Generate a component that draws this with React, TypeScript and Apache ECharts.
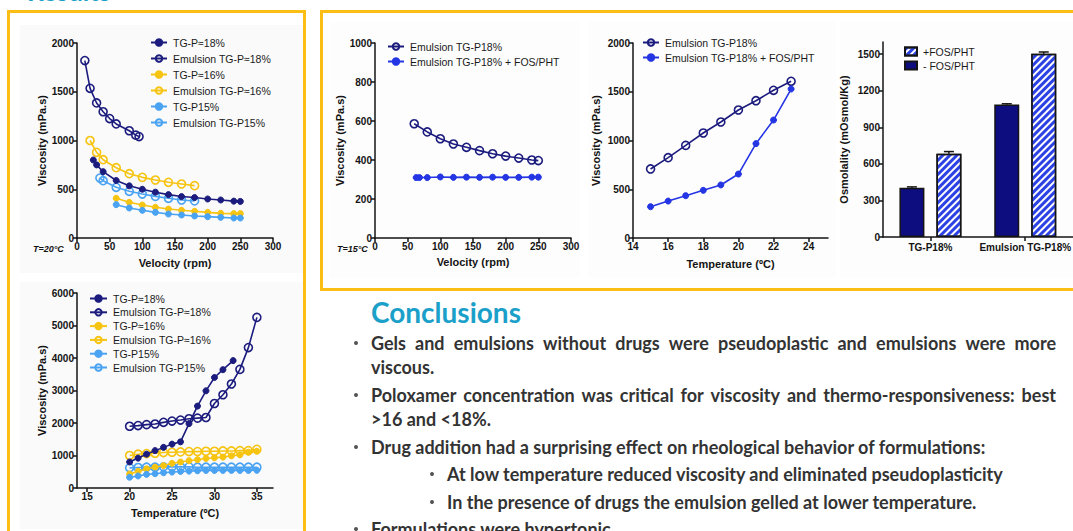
import React, { useEffect, useRef } from "react";
import * as echarts from "echarts";

// ---------- DATA ----------
// Chart A: viscosity vs velocity, T = 20 °C
const velA_tg18 = [25, 30, 40, 60, 80, 100, 120, 140, 160, 180, 200, 220, 240, 250];
const visA_tg18 = [800, 750, 680, 590, 535, 500, 470, 445, 425, 415, 400, 390, 378, 375];
const velA_em18 = [12, 20, 30, 40, 50, 60, 80, 90, 95];
const visA_em18 = [1820, 1535, 1385, 1295, 1225, 1170, 1100, 1055, 1040];
const velA_tg16 = [60, 80, 100, 120, 140, 160, 180, 200, 220, 240, 250];
const visA_tg16 = [407, 366, 338, 315, 297, 284, 274, 263, 253, 250, 250];
const velA_em16 = [20, 30, 40, 60, 80, 100, 120, 140, 160, 180];
const visA_em16 = [1000, 879, 803, 721, 660, 622, 595, 571, 554, 537];
const velA_tg15 = [60, 80, 100, 120, 140, 160, 180, 200, 220, 240, 250];
const visA_tg15 = [342, 308, 284, 263, 246, 236, 226, 219, 212, 205, 205];
const velA_em15 = [35, 40, 60, 80, 100, 120, 140, 160, 180];
const visA_em15 = [615, 588, 520, 479, 451, 427, 407, 390, 380];

// Chart B: viscosity vs temperature
const tempB_tg18 = [20, 21, 22, 23, 24, 25, 26, 27, 28, 29, 30, 31, 32.2];
const visB_tg18 = [800, 920, 1040, 1150, 1250, 1350, 1420, 1980, 2520, 2990, 3400, 3640, 3920];
const tempB = [20, 21, 22, 23, 24, 25, 26, 27, 28, 29, 30, 31, 32, 33, 34, 35];
const visB_em18 = [1900, 1920, 1950, 1970, 2020, 2060, 2090, 2130, 2150, 2170, 2600, 2870, 3200, 3650, 4320, 5250];
const visB_tg16 = [430, 510, 590, 640, 690, 760, 800, 840, 870, 910, 930, 950, 990, 1020, 1100, 1130];
const visB_em16 = [1000, 1040, 1060, 1070, 1090, 1100, 1110, 1120, 1120, 1130, 1130, 1140, 1140, 1150, 1150, 1190];
const visB_tg15 = [330, 370, 420, 440, 470, 490, 510, 520, 530, 540, 540, 540, 540, 540, 540, 545];
const visB_em15 = [620, 630, 640, 640, 650, 650, 650, 650, 640, 640, 640, 640, 640, 640, 640, 640];

// Chart C: viscosity vs velocity, T = 15 °C
const velC_em = [60, 80, 100, 120, 140, 160, 180, 200, 220, 240, 250];
const visC_em = [586, 544, 509, 482, 465, 448, 432, 420, 410, 400, 397];
const velC_fos = [63, 68, 80, 100, 120, 140, 160, 180, 200, 220, 240, 250];
const visC_fos = [310, 310, 310, 313, 311, 312, 311, 312, 311, 311, 312, 312];

// Chart D: viscosity vs temperature
const tempD = [15, 16, 17, 18, 19, 20, 21, 22, 23];
const visD_em = [708, 824, 950, 1077, 1190, 1313, 1408, 1515, 1607];
const visD_fos = [321, 379, 434, 489, 544, 656, 968, 1210, 1528];

// Chart E: osmolality
const osmCategories = ["TG-P18%", "Emulsion TG-P18%"];
const osmMinus = [405, 1087];
const osmMinusErr = [6, 6];
const osmPlus = [683, 1503];
const osmPlusErr = [18, 15];

// Tick values
const ticksB_x = [15, 20, 25, 30, 35];
const ticksD_x = [14, 16, 18, 20, 22, 24];
const ticksE_y = [0, 300, 600, 900, 1200, 1500];

// Text
const conclusions = {
  title: "Conclusions",
  b1a: "Gels and emulsions without drugs were pseudoplastic and emulsions were more",
  b1b: "viscous.",
  b2a: "Poloxamer concentration was critical for viscosity and thermo-responsiveness: best",
  b2b: ">16 and <18%.",
  b3: "Drug addition had a surprising effect on rheological behavior of formulations:",
  s1: "At low temperature reduced viscosity and eliminated pseudoplasticity",
  s2: "In the presence of drugs the emulsion gelled at lower temperature.",
  b4: "Formulations were hypertonic.",
};

// ---------- STYLE ----------
const NAVY = "#1c1c7e";
const YELLOW = "#f6c411";
const LBLUE = "#4aa3f2";
const FOSBLUE = "#2435e4";
const BARNAVY = "#0d0d80";
const ORANGE = "#fcbd14";
const CYAN = "#1ba0c9";
const AXC = "#141414";
const FF = "Liberation Sans, Arial, sans-serif";
const TXT = "#333333";

const zip = (a: number[], b: number[]) => a.map((v, i) => [v, b[i]]);

function lineSeries(name: string, x: number[], y: number[], idx: number, color: string, open: boolean) {
  return {
    name,
    type: "line",
    xAxisIndex: idx,
    yAxisIndex: idx,
    data: zip(x, y),
    symbol: "circle",
    symbolSize: open ? 8 : 6,
    showSymbol: true,
    lineStyle: { color, width: 1.6 },
    itemStyle: open
      ? { color: "rgba(255,255,255,0)", borderColor: color, borderWidth: 1.6 }
      : { color, borderColor: color, borderWidth: 1 },
    emphasis: { disabled: true },
    z: open ? 3 : 4,
  };
}

const axisLineCfg = { show: true, onZero: false, lineStyle: { color: AXC, width: 1.5 } };
const axisTickCfg = { show: true, length: 4, lineStyle: { color: AXC, width: 1.5 } };
const labelCfg = {
  color: AXC,
  fontFamily: FF,
  fontWeight: "bold",
  fontSize: 10,
  margin: 3,
  formatter: (v: any) => String(v),
};
const nameCfg = { color: AXC, fontFamily: FF, fontWeight: "bold", fontSize: 11 };

function vAxis(gridIndex: number, o: any) {
  return {
    type: "value",
    gridIndex,
    axisLine: axisLineCfg,
    axisTick: o.customTicks ? { ...axisTickCfg, customValues: o.customTicks } : axisTickCfg,
    axisLabel: o.customTicks ? { ...labelCfg, customValues: o.customTicks } : labelCfg,
    splitLine: { show: false },
    nameLocation: "middle",
    nameTextStyle: nameCfg,
    min: o.min,
    max: o.max,
    interval: o.interval,
    name: o.name,
    nameGap: o.nameGap,
  };
}

function legendCfg(left: number, top: number, names: any[], itemGap: number, itemWidth = 16, itemHeight = 8) {
  return {
    orient: "vertical",
    left,
    top,
    padding: 0,
    itemGap,
    itemWidth,
    itemHeight,
    selectedMode: false,
    data: names,
    textStyle: { fontFamily: FF, fontSize: 10.5, color: "#1a1a1a", padding: [0, 0, 0, 1] },
  };
}

function measure(text: string, font: string) {
  const c = document.createElement("canvas").getContext("2d")!;
  c.font = font;
  return c.measureText(text).width;
}

function justifiedLine(text: string, x: number, y: number, width: number, font: string, fill: string) {
  const words = text.split(" ");
  const widths = words.map((w) => measure(w, font));
  const total = widths.reduce((s, v) => s + v, 0);
  const gap = (width - total) / (words.length - 1);
  const els: any[] = [];
  let cx = x;
  words.forEach((w, i) => {
    els.push({ type: "text", x: cx, y, style: { text: w, font, fill, align: "left", verticalAlign: "middle" } });
    cx += widths[i] + gap;
  });
  return els;
}

function plainText(text: string, x: number, y: number, font: string, fill: string, align = "left") {
  return { type: "text", x, y, style: { text, font, fill, align, verticalAlign: "middle" } };
}

export default function App() {
  const ref = useRef<HTMLDivElement>(null);

  useEffect(() => {
    if (!ref.current) return;
    const chart = echarts.init(ref.current, undefined, { renderer: "svg" });

    // conclusion font sizing
    const refW = measure(conclusions.b3, "bold 16px Lato");
    const fs = Math.round(((16 * 614) / refW) * 10) / 10;
    const bodyFont = `bold ${fs}px Lato`;
    const titleW = measure(conclusions.title, "bold 22px Lato");
    const tfs = Math.round(((22 * 150) / titleW) * 10) / 10;

    const bullet = (x: number, y: number) => ({
      type: "circle",
      shape: { cx: x, cy: y, r: 2 },
      style: { fill: "#555" },
    });

    const graphics: any[] = [
      // faint chart backgrounds
      { type: "rect", z: -10, shape: { x: 20, y: 25, width: 283, height: 248 }, style: { fill: "#fafafa" } },
      { type: "rect", z: -10, shape: { x: 20, y: 282, width: 283, height: 247 }, style: { fill: "#fafafa" } },
      { type: "rect", z: -10, shape: { x: 330, y: 22, width: 250, height: 256 }, style: { fill: "#fdfdfd" } },
      { type: "rect", z: -10, shape: { x: 588, y: 22, width: 248, height: 256 }, style: { fill: "#fdfdfd" } },
      { type: "rect", z: -10, shape: { x: 840, y: 22, width: 240, height: 256 }, style: { fill: "#fdfdfd" } },
      // panel borders
      { type: "rect", shape: { x: 8.5, y: 11.5, width: 296, height: 560 }, style: { fill: "none", stroke: ORANGE, lineWidth: 3 } },
      { type: "rect", shape: { x: 321.5, y: 11.5, width: 800, height: 278 }, style: { fill: "none", stroke: ORANGE, lineWidth: 3 } },
      // section headers
      { type: "text", x: 27, y: 4, style: { text: "Results", font: "bold 26px Lato", fill: CYAN, align: "left", verticalAlign: "bottom" } },
      plainText("T=20°C", 33, 249, `italic bold 9px ${FF}`, AXC),
      plainText("T=15°C", 337, 249, `italic bold 9px ${FF}`, AXC),
      plainText(conclusions.title, 371, 312, `bold ${tfs}px Lato`, CYAN),
      bullet(356, 343),
      ...justifiedLine(conclusions.b1a, 371, 343, 685, bodyFont, TXT),
      plainText(conclusions.b1b, 371, 367, bodyFont, TXT),
      bullet(356, 395),
      ...justifiedLine(conclusions.b2a, 371, 395, 685, bodyFont, TXT),
      plainText(conclusions.b2b, 371, 419, bodyFont, TXT),
      bullet(356, 447),
      plainText(conclusions.b3, 371, 447, bodyFont, TXT),
      bullet(432, 474),
      plainText(conclusions.s1, 447, 474, bodyFont, TXT),
      bullet(432, 502),
      plainText(conclusions.s2, 447, 502, bodyFont, TXT),
      bullet(356, 529),
      plainText(conclusions.b4, 371, 529, bodyFont, TXT),
    ];

    const barOffset = 18.5;
    const errSeries = (vals: number[], errs: number[], off: number) => ({
      type: "custom",
      xAxisIndex: 4,
      yAxisIndex: 4,
      silent: true,
      z: 5,
      data: vals.map((v, i) => [i, v, errs[i]]),
      renderItem: (_p: any, api: any) => {
        const ci = api.value(0);
        const v = api.value(1);
        const e = api.value(2);
        const base = api.coord([ci, v]);
        const hi = api.coord([ci, v + e]);
        const x = base[0] + off;
        return {
          type: "group",
          children: [
            { type: "line", shape: { x1: x, y1: base[1], x2: x, y2: hi[1] }, style: { stroke: AXC, lineWidth: 1.5 } },
            { type: "line", shape: { x1: x - 5, y1: hi[1], x2: x + 5, y2: hi[1] }, style: { stroke: AXC, lineWidth: 1.5 } },
          ],
        };
      },
    });

    const legendNames6 = ["TG-P≈18%", "Emulsion TG-P≈18%", "TG-P≈16%", "Emulsion TG-P≈16%", "TG-P15%", "Emulsion TG-P15%"];

    const option: any = {
      animation: false,
      backgroundColor: "#ffffff",
      grid: [
        { left: 77, top: 43, width: 196, height: 195 },
        { left: 77, top: 293, width: 196, height: 195 },
        { left: 375, top: 43, width: 196, height: 195 },
        { left: 633, top: 43, width: 195, height: 195 },
        { left: 883, top: 42, width: 194, height: 195 },
      ],
      xAxis: [
        vAxis(0, { min: 0, max: 300, interval: 50, name: "Velocity (rpm)", nameGap: 19 }),
        vAxis(1, { min: 13.8, max: 36.9, customTicks: ticksB_x, name: "Temperature (ºC)", nameGap: 19 }),
        vAxis(2, { min: 0, max: 300, interval: 50, name: "Velocity (rpm)", nameGap: 18 }),
        vAxis(3, { min: 14, max: 25.1, customTicks: ticksD_x, name: "Temperature (ºC)", nameGap: 20 }),
        {
          type: "category",
          gridIndex: 4,
          data: osmCategories,
          axisLine: axisLineCfg,
          axisTick: { ...axisTickCfg, alignWithLabel: true },
          axisLabel: { color: AXC, fontFamily: FF, fontWeight: "bold", fontSize: 10, interval: 0, margin: 5 },
        },
      ],
      yAxis: [
        vAxis(0, { min: 0, max: 2000, interval: 500, name: "Viscosity (mPa.s)", nameGap: 29 }),
        vAxis(1, { min: 0, max: 6000, interval: 1000, name: "Viscosity (mPa.s)", nameGap: 30 }),
        vAxis(2, { min: 0, max: 1000, interval: 200, name: "Viscosity (mPa.s)", nameGap: 29 }),
        vAxis(3, { min: 0, max: 2000, interval: 500, name: "Viscosity (mPa.s)", nameGap: 32 }),
        vAxis(4, { min: 0, max: 1600, customTicks: ticksE_y, name: "Osmolality (mOsmol/Kg)", nameGap: 34 }),
      ],
      legend: [
        legendCfg(150, 37, legendNames6, 5),
        legendCfg(89, 293, legendNames6, 2.8, 17),
        legendCfg(387, 41, ["Emulsion TG-P18%", "Emulsion TG-P18% + FOS/PHT"], 4),
        legendCfg(642, 37, ["Emulsion TG-P18%", "Emulsion TG-P18% + FOS/PHT"], 4),
        legendCfg(904, 46, [{ name: "+FOS/PHT", icon: "rect" }, { name: "- FOS/PHT", icon: "rect" }], 3, 12, 8),
      ],
      graphic: { elements: graphics },
      series: [
        lineSeries("TG-P≈18%", velA_tg18, visA_tg18, 0, NAVY, false),
        lineSeries("Emulsion TG-P≈18%", velA_em18, visA_em18, 0, NAVY, true),
        lineSeries("TG-P≈16%", velA_tg16, visA_tg16, 0, YELLOW, false),
        lineSeries("Emulsion TG-P≈16%", velA_em16, visA_em16, 0, YELLOW, true),
        lineSeries("TG-P15%", velA_tg15, visA_tg15, 0, LBLUE, false),
        lineSeries("Emulsion TG-P15%", velA_em15, visA_em15, 0, LBLUE, true),

        lineSeries("TG-P≈18%", tempB_tg18, visB_tg18, 1, NAVY, false),
        lineSeries("Emulsion TG-P≈18%", tempB, visB_em18, 1, NAVY, true),
        lineSeries("TG-P≈16%", tempB, visB_tg16, 1, YELLOW, false),
        lineSeries("Emulsion TG-P≈16%", tempB, visB_em16, 1, YELLOW, true),
        lineSeries("TG-P15%", tempB, visB_tg15, 1, LBLUE, false),
        lineSeries("Emulsion TG-P15%", tempB, visB_em15, 1, LBLUE, true),

        lineSeries("Emulsion TG-P18%", velC_em, visC_em, 2, NAVY, true),
        lineSeries("Emulsion TG-P18% + FOS/PHT", velC_fos, visC_fos, 2, FOSBLUE, false),

        lineSeries("Emulsion TG-P18%", tempD, visD_em, 3, NAVY, true),
        lineSeries("Emulsion TG-P18% + FOS/PHT", tempD, visD_fos, 3, FOSBLUE, false),

        {
          name: "- FOS/PHT",
          type: "bar",
          xAxisIndex: 4,
          yAxisIndex: 4,
          data: osmMinus,
          barWidth: 25,
          barGap: "48%",
          itemStyle: { color: BARNAVY, borderColor: AXC, borderWidth: 1.5 },
          emphasis: { disabled: true },
        },
        {
          name: "+FOS/PHT",
          type: "bar",
          xAxisIndex: 4,
          yAxisIndex: 4,
          data: osmPlus,
          barWidth: 25,
          barGap: "48%",
          itemStyle: {
            color: "#ffffff",
            borderColor: AXC,
            borderWidth: 1.5,
            decal: {
              symbol: "rect",
              symbolSize: 1,
              dashArrayX: [1, 0],
              dashArrayY: [3, 2],
              rotation: -Math.PI / 4,
              color: "#2c42e4",
            },
          },
          emphasis: { disabled: true },
        },
        errSeries(osmMinus, osmMinusErr, -barOffset),
        errSeries(osmPlus, osmPlusErr, barOffset),
      ],
    };

    chart.setOption(option);
    return () => chart.dispose();
  }, []);

  return (
    <div
      ref={ref}
      style={{ position: "fixed", left: 0, top: 0, width: 1073, height: 531, background: "#fff" }}
    />
  );
}
